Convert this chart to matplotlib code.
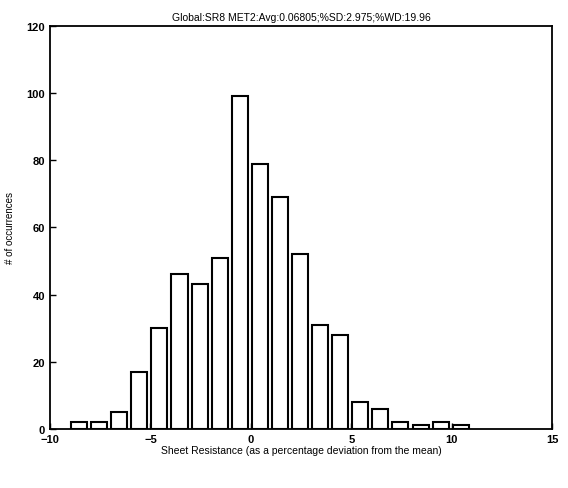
import matplotlib
matplotlib.use("Agg")
import matplotlib.pyplot as plt

# histogram bins (centres, % deviation from mean) and counts
bin_centers = [-8.55, -7.55, -6.55, -5.55, -4.55, -3.55, -2.55, -1.55, -0.55, 0.45,
               1.45, 2.45, 3.45, 4.45, 5.45, 6.45, 7.45, 8.45, 9.45, 10.45]
counts = [2, 2, 5, 17, 30, 46, 43, 51, 99, 79,
          69, 52, 31, 28, 8, 6, 2, 1, 2, 1]
bin_width = 1.0

title = "Global:SR8 MET2:Avg:0.06805;%SD:2.975;%WD:19.96"
xlabel = "Sheet Resistance (as a percentage deviation from the mean)"
ylabel = "# of occurrences"

plt.rcParams['font.family'] = ['Liberation Sans', 'DejaVu Sans']

fig = plt.figure(figsize=(5.68, 4.89), dpi=100)
ax = fig.add_axes([0.088, 0.121, 0.884, 0.824])

ax.bar(bin_centers, counts, width=0.8 * bin_width, color='white',
       edgecolor='black', linewidth=1.5)

ax.set_xlim(-10, 15)
ax.set_ylim(0, 120)
ax.set_xticks([-10, -5, 0, 5, 10, 15])
ax.set_yticks([0, 20, 40, 60, 80, 100, 120])
ax.tick_params(direction='in', length=4, width=1, labelsize=8,
               top=False, right=False)
for lbl in ax.get_xticklabels() + ax.get_yticklabels():
    lbl.set_fontweight('bold')
for s in ax.spines.values():
    s.set_linewidth(1.3)

ax.set_title(title, fontsize=7.5, pad=4)
ax.set_xlabel(xlabel, fontsize=7.5, labelpad=1)
ax.set_ylabel(ylabel, fontsize=7, labelpad=8)

fig.savefig("out.png", dpi=100)
